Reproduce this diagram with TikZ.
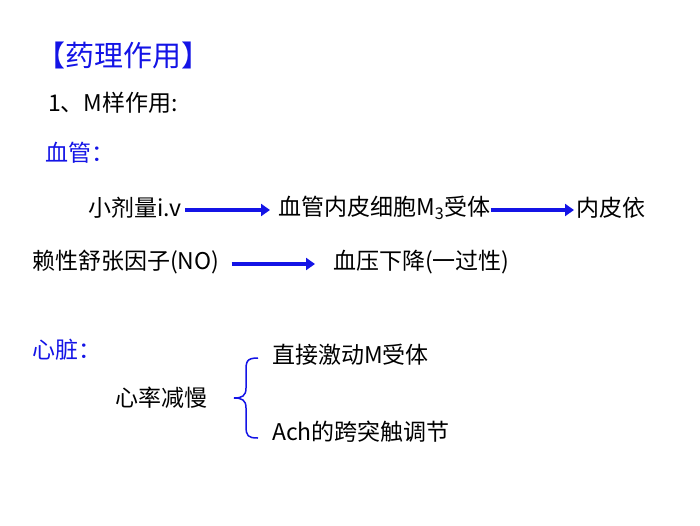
\documentclass[tikz,border=0pt]{standalone}
\usepackage{fontspec}
\setmainfont{Noto Sans CJK SC}
\usetikzlibrary{arrows.meta,calc}
\definecolor{myblue}{RGB}{20,20,230}
\tikzset{t/.style={anchor=west,inner sep=0pt,font=\fontsize{23}{26}\selectfont},
 bl/.style={t,text=myblue},
 arr/.style={draw=myblue,line width=4pt,-{Triangle[length=9pt,width=12pt]}}}
\begin{document}
\begin{tikzpicture}[x=1pt,y=-1pt]
\useasboundingbox (0,0) rectangle (700,525);
\node[bl,font=\fontsize{29}{32}\selectfont] (title) at (36,55) {【药理作用】};
\node[t] (m) at (48,103) {1、M样作用:};
\node[bl] (xg) at (45,153) {血管：};
\node[t] (a1) at (88,208) {小剂量i.v};
\node[t] (a2) at (278,208) {血管内皮细胞M\textsubscript{3}受体};
\node[t] (a3) at (576,208) {内皮依};
\node[t] (b1) at (32,262) {赖性舒张因子(NO)};
\node[t] (b2) at (333,262) {血压下降(一过性)};
\draw[arr] ($(a1.east)+(4,2)$) -- ($(a2.west)+(-8,2)$);
\draw[arr] ($(a2.east)+(0,2)$) -- ($(a3.west)+(-2,2)$);
\draw[arr] ($(b1.east)+(12,2)$) -- ($(b2.west)+(-18,2)$);
\node[bl] (xz) at (32,350) {心脏：};
\node[t] (c) at (115,398) {心率减慢};
\node[t] (d1) at (272,355) {直接激动M受体};
\node[t] (d2) at (272,432) {Ach的跨突触调节};
\draw[myblue,line width=1.5pt] (258,358) .. controls (246,358) and (246,362) .. (246,372) -- (246,388) .. controls (246,396) and (242,398) .. (234,398) .. controls (242,398) and (246,400) .. (246,408) -- (246,426) .. controls (246,436) and (248,438) .. (258,438);
\end{tikzpicture}
\end{document}
